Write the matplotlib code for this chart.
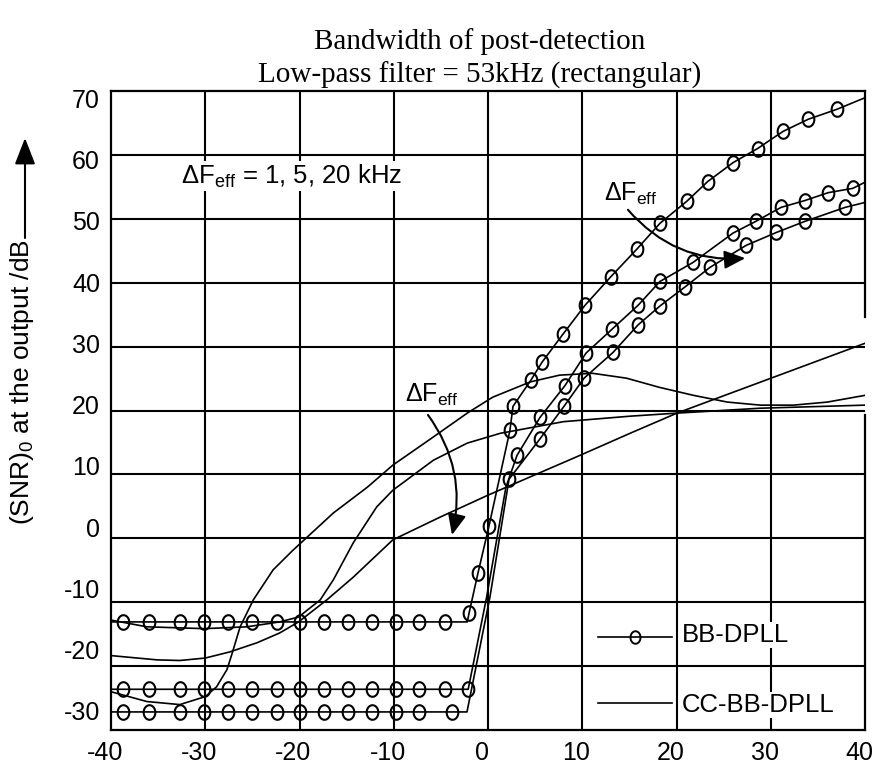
import numpy as np
import matplotlib
matplotlib.use("Agg")
import matplotlib.pyplot as plt
from matplotlib.path import Path
from matplotlib.transforms import ScaledTranslation

plt.rcParams['font.family'] = ['Liberation Sans', 'DejaVu Sans']
plt.rcParams['mathtext.fontset'] = 'custom'
plt.rcParams['mathtext.rm'] = 'Liberation Sans'
plt.rcParams['mathtext.it'] = 'Liberation Sans:italic'
plt.rcParams['axes.unicode_minus'] = False

# ---------------- data ----------------
x_ticks = [-40, -30, -20, -10, 0, 10, 20, 30, 40]
y_ticks = [-30, -20, -10, 0, 10, 20, 30, 40, 50, 60, 70]

flat_x = [-38.7, -36.0, -32.7, -30.1, -27.6, -25.0, -22.4, -20.0, -17.4, -14.9, -12.3, -9.8, -7.3]

# BB-DPLL, dF_eff = 1 kHz
bb1_x = [-40] + flat_x + [-4.6, -2.2, -2.0, -1.06, 0.11, 2.33, 2.65, 4.56, 5.73, 7.96, 10.29,
                          13.05, 15.81, 18.25, 21.1, 23.3, 26.0, 28.6, 31.3, 34.0, 37.0, 40]
bb1_y = [-15.5] * 16 + [-14.0, -7.5, 0.2, 15.8, 19.7, 24.0, 26.9, 31.5, 36.2,
                        40.9, 45.4, 49.6, 53.2, 56.4, 59.5, 61.8, 64.6, 66.6, 68.2, 70.1]
bb1_marks = [i for i in range(1, len(bb1_x) - 1) if i != 15]

# BB-DPLL, dF_eff = 5 kHz
bb5_x = [-40] + flat_x + [-4.6, -2.1, -0.14, 1.9, 3.08, 5.52, 8.17, 10.40, 13.16, 15.92, 18.25,
                          21.75, 26.0, 28.4, 31.1, 33.6, 36.1, 38.7, 40]
bb5_y = [-26.5] * 16 + [-11.4, 6.5, 11.7, 17.9, 23.1, 28.4, 32.3, 36.2, 40.1,
                        43.2, 48.0, 49.9, 52.2, 53.3, 54.6, 55.3, 56.3]
bb5_marks = [i for i in range(1, len(bb5_x) - 1) if i not in (16, 17)]

# BB-DPLL, dF_eff = 20 kHz
bb20_x = [-40] + flat_x + [-3.85, -2.23, 0.21, 2.23, 5.52, 8.06, 10.19, 13.26, 15.92, 18.25,
                           20.9, 23.55, 27.4, 30.6, 33.6, 37.9, 40]
bb20_y = [-30.2] * 16 + [-11.4, 7.8, 14.4, 19.7, 24.3, 28.5, 33.0, 36.1, 39.2,
                         42.4, 46.0, 48.1, 49.9, 52.2, 53.0]
bb20_marks = [i for i in range(1, len(bb20_x) - 1) if i not in (15, 16)]

# CC-BB-DPLL curves
ccp_x = [-40, -36.2, -32.7, -30.0, -28.8, -27.7, -27.2, -26.3, -24.9, -22.8, -20.7, -16.4, -12.8,
         -10.1, -5.8, -2.2, 0.5, 4.5, 7.6, 11.1, 14.7, 18.2, 21.8, 25.4, 28.9, 32.4, 36.0, 40]
ccp_y = [-26.9, -28.5, -29.0, -27.7, -26.1, -23.3, -20.9, -16.3, -11.9, -7.0, -3.8, 2.3, 6.5,
         10.1, 14.7, 18.6, 21.2, 23.7, 24.8, 25.1, 24.3, 22.8, 21.5, 20.4, 19.9, 19.9, 20.4, 21.5]

ccs_x = [-40, -36.2, -30.1, -25.6, -22.1, -20.1, -17.8, -16.4, -14.3, -11.8, -10.1, -5.8, -2.2,
         1.3, 8.0, 15.1, 20.1, 28.9, 40]
ccs_y = [-15.2, -16.3, -16.6, -16.3, -15.5, -14.7, -11.9, -8.6, -2.6, 3.3, 6.0, 10.9, 13.7,
         15.3, 17.2, 18.1, 18.6, 19.4, 19.9]

cca_x = [-40, -35.1, -32.7, -30.0, -27.4, -24.5, -22.1, -20.1, -17.1, -14.3, -10.1, -5.1, 0,
         9.76, 15.07, 20.05, 40]
cca_y = [-21.0, -21.7, -21.8, -21.4, -20.4, -18.9, -17.3, -15.5, -11.9, -8.2, -2.1, 1.6, 5.2,
         11.7, 15.3, 18.6, 30.0]

# ---------------- figure ----------------
W, H = 873, 766
fig = plt.figure(figsize=(W / 100, H / 100), dpi=100)
L, R, T, B = 111, 865, 91, 730
ax = fig.add_axes([L / W, 1 - B / H, (R - L) / W, (B - T) / H])

y_bot, y_top = -33.15, 71.2
ax.set_xlim(-40, 40)
ax.set_ylim(y_bot, y_top)

# grid (drawn as lines, below the curves)
for gx in x_ticks[1:-1]:
    ax.axvline(gx, color='black', lw=1.5, zorder=1)
for gy in np.linspace(y_bot, y_top, 11)[1:-1]:
    ax.axhline(gy, color='black', lw=1.5, zorder=1)

# ellipse marker (taller than wide)
t = np.linspace(0, 2 * np.pi, 60)
ell = Path(np.column_stack([0.4 * np.cos(t), 0.5 * np.sin(t)]), closed=True)

lw_curve = 1.2
mk = dict(marker=ell, markersize=10.5, markerfacecolor='none', markeredgecolor='black',
          markeredgewidth=1.5)
ax.plot(bb1_x, bb1_y, color='black', lw=lw_curve, markevery=bb1_marks, zorder=3, **mk)
ax.plot(bb5_x, bb5_y, color='black', lw=lw_curve, markevery=bb5_marks, zorder=3, **mk)
ax.plot(bb20_x, bb20_y, color='black', lw=lw_curve, markevery=bb20_marks, zorder=3, **mk)

ax.plot(ccp_x, ccp_y, color='black', lw=lw_curve, zorder=3)
ax.plot(ccs_x, ccs_y, color='black', lw=lw_curve, zorder=3)
ax.plot(cca_x, cca_y, color='black', lw=lw_curve, zorder=3)

# ticks
ax.set_xticks(x_ticks)
ax.set_yticks(y_ticks)
ax.tick_params(which='both', length=0)
ax.tick_params(axis='x', labelsize=18, pad=8)
ax.tick_params(axis='y', labelsize=18, pad=8)
shift = ScaledTranslation(-6 / 100, 0, fig.dpi_scale_trans)
for lab in ax.get_xticklabels():
    lab.set_transform(lab.get_transform() + shift)

for s in ['left', 'top', 'bottom']:
    ax.spines[s].set_linewidth(1.6)
ax.spines['right'].set_visible(False)
ax.plot([1, 1], [0, 0.493], transform=ax.transAxes, color='black', lw=1.6, clip_on=False)
ax.plot([1, 1], [0.646, 1], transform=ax.transAxes, color='black', lw=1.6, clip_on=False)

# annotations
ax.text(-20.8, 57.3, 'ΔF$_{\\mathrm{eff}}$ = 1, 5, 20 kHz', fontsize=18.5, ha='center',
        va='center', bbox=dict(facecolor='white', edgecolor='none', pad=1), zorder=4)
ax.text(15.17, 54.4, 'ΔF$_{\\mathrm{eff}}$', fontsize=18, ha='center', va='center', zorder=4)
ax.text(-5.94, 21.6, 'ΔF$_{\\mathrm{eff}}$', fontsize=18, ha='center', va='center', zorder=4)

arr = dict(arrowstyle='-|>,head_length=0.8,head_width=0.35', color='black', lw=1.5,
           mutation_scale=16, shrinkA=0, shrinkB=0)
ax.annotate('', xy=(27.3, 43.9), xytext=(14.85, 51.8),
            arrowprops=dict(connectionstyle='arc3,rad=0.25', **arr), zorder=5)
ax.annotate('', xy=(-3.82, -1.3), xytext=(-6.37, 18.3),
            arrowprops=dict(connectionstyle='arc3,rad=-0.23', **arr), zorder=5)

# legend (manual)
def fx(px):
    return (px - L) / (R - L)

def fy(py):
    return (B - py) / (B - T)

ax.plot([fx(598), fx(672)], [fy(637), fy(637)], transform=ax.transAxes, color='black',
        lw=lw_curve, clip_on=False, zorder=4)
ax.plot([fx(635)], [fy(637)], transform=ax.transAxes, linestyle='none', marker=ell,
        markersize=9, markerfacecolor='none', markeredgecolor='black', markeredgewidth=1.4,
        clip_on=False, zorder=4)
ax.plot([fx(598), fx(672)], [fy(703), fy(703)], transform=ax.transAxes, color='black',
        lw=lw_curve, clip_on=False, zorder=4)
ax.text(fx(682), fy(635), 'BB-DPLL', transform=ax.transAxes, fontsize=18.5, ha='left',
        va='center', bbox=dict(facecolor='white', edgecolor='none', pad=1), zorder=4)
ax.text(fx(682), fy(705), 'CC-BB-DPLL', transform=ax.transAxes, fontsize=18.5, ha='left',
        va='center', bbox=dict(facecolor='white', edgecolor='none', pad=1), zorder=4)

# y label with arrow
fig.text(22 / W, 1 - 382 / H, '(SNR)$_0$ at the output /dB', rotation=90, fontsize=19,
         ha='center', va='center')
ax.annotate('', xy=(25 / W, 1 - 138 / H), xytext=(25 / W, 1 - 238 / H),
            xycoords='figure fraction', textcoords='figure fraction',
            arrowprops=dict(arrowstyle='-|>,head_length=0.9,head_width=0.35', color='black',
                            lw=1.5, mutation_scale=18, shrinkA=0, shrinkB=0),
            annotation_clip=False)

# title
fig.text(480 / W, 1 - 42 / H, 'Bandwidth of post-detection', fontsize=21,
         family=['Liberation Serif'], ha='center', va='center')
fig.text(480 / W, 1 - 75 / H, 'Low-pass filter = 53kHz (rectangular)', fontsize=21,
         family=['Liberation Serif'], ha='center', va='center')

fig.savefig('out.png', dpi=100)
